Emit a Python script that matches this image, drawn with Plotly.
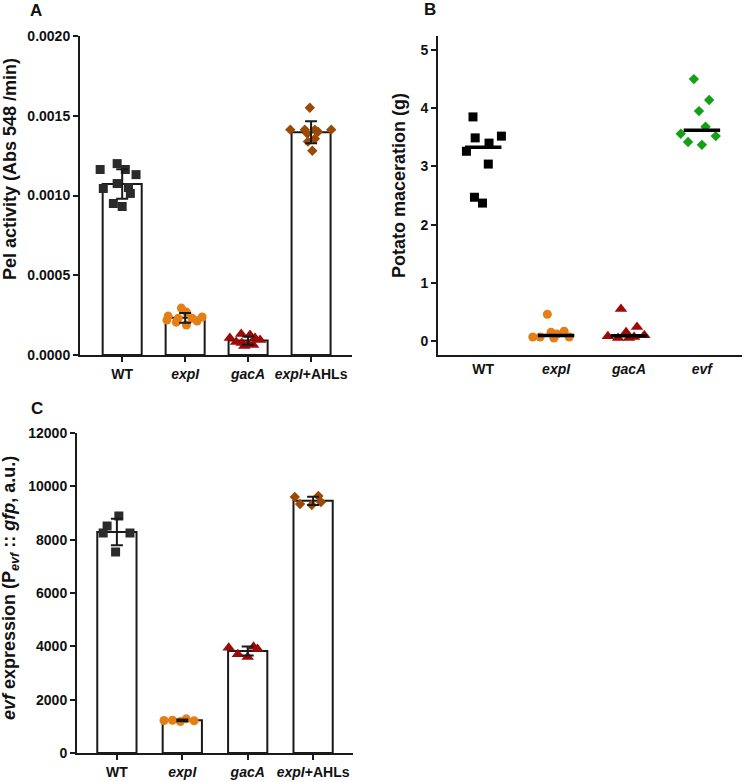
import numpy as np
import plotly.graph_objects as go

W, H = 750, 782

# ---------------- data ----------------
# Panel A : Pel activity (Abs 548 /min)
a_categories = ["WT", "<i>expI</i>", "<i>gacA</i>", "<i>expI</i>+AHLs"]
a_wt = [0.00120, 0.001163, 0.001163, 0.001131, 0.001075, 0.00105, 0.001044, 0.001013, 0.00095, 0.000931]
a_expi = [0.000244, 0.000219, 0.000206, 0.000231, 0.000294, 0.000269, 0.000188, 0.000231, 0.000213, 0.000238]
a_gaca = [0.000106, 0.000081, 0.000131, 0.000075, 0.000069, 0.000125, 0.000106, 0.000094, 0.000056, 0.000063]
a_ahl = [0.00155, 0.001413, 0.001413, 0.001388, 0.001413, 0.0014, 0.001413, 0.001338, 0.001356, 0.001281]
a_ticks = [0, 0.0005, 0.0010, 0.0015, 0.0020]
a_ticklabels = ["0.0000", "0.0005", "0.0010", "0.0015", "0.0020"]
# horizontal scatter of the dots (category units)
a_wt_jit = [-0.08, -0.35, 0.05, 0.22, -0.08, 0.10, -0.30, 0.13, -0.14, 0.0]
a_expi_jit = [-0.27, -0.29, -0.14, -0.11, -0.06, 0.02, 0.02, 0.11, 0.19, 0.27]
a_gaca_jit = [-0.29, -0.19, -0.11, -0.10, 0.0, 0.03, 0.11, 0.19, -0.06, 0.08]
a_ahl_jit = [-0.02, -0.33, -0.10, -0.06, 0.06, 0.11, 0.32, -0.05, 0.06, 0.02]

# Panel B : Potato maceration (g)
b_categories = ["WT", "<i>expI</i>", "<i>gacA</i>", "<i>evf</i>"]
b_wt = [3.85, 3.49, 3.40, 3.52, 3.26, 3.04, 2.47, 2.37]
b_expi = [0.46, 0.07, 0.07, 0.15, 0.05, 0.12, 0.17, 0.07]
b_gaca = [0.55, 0.08, 0.05, 0.15, 0.05, 0.24, 0.10, 0.07]
b_evf = [4.50, 4.14, 3.95, 3.68, 3.56, 3.52, 3.42, 3.37]
b_ticks = [0, 1, 2, 3, 4, 5]
b_ticklabels = ["0", "1", "2", "3", "4", "5"]
b_wt_jit = [-0.14, -0.11, 0.08, 0.25, -0.23, 0.07, -0.12, -0.01]
b_expi_jit = [-0.12, -0.32, -0.22, -0.07, -0.03, 0.01, 0.11, 0.18]
b_gaca_jit = [-0.11, -0.29, -0.15, -0.04, 0.0, 0.11, 0.21, 0.07]
b_evf_jit = [-0.11, 0.10, -0.04, 0.05, -0.29, 0.19, -0.19, 0.0]

# Panel C : evf expression (Pevf :: gfp, a.u.)
c_categories = ["WT", "<i>expI</i>", "<i>gacA</i>", "<i>expI</i>+AHLs"]
c_wt = [8888, 8512, 8250, 8250, 7538]
c_expi = [1220, 1230, 1180, 1280, 1210]
c_gaca = [3950, 3700, 3600, 3980, 3900]
c_ahl = [9600, 9338, 9300, 9638, 9413]
c_ticks = [0, 2000, 4000, 6000, 8000, 10000, 12000]
c_ticklabels = ["0", "2000", "4000", "6000", "8000", "10000", "12000"]
c_wt_jit = [0.03, -0.15, -0.21, 0.20, -0.02]
c_expi_jit = [-0.28, -0.15, -0.03, 0.06, 0.18]
c_gaca_jit = [-0.29, -0.15, 0.0, 0.09, 0.15]
c_ahl_jit = [-0.28, -0.20, -0.02, 0.08, 0.12]

# ---------------- styles ----------------
GRAY = "#2b2b2b"
BLACK = "#000000"
ORANGE = "#E47F17"
DARKRED = "#9C0A0A"
BROWN = "#9A4A06"
GREEN = "#14A014"
FONT = "Liberation Sans, Arial, sans-serif"
AXC = "#1a1a1a"


def px_x(p):
    return p / W


def px_y(p):
    return 1 - p / H


fig = go.Figure()

symbols_4 = ["square", "circle", "triangle-up", "diamond"]
sizes_4 = [9, 9, 11, 8]


def bar_panel(xa, ya, groups, jits, colors, width):
    n = len(groups)
    means = [float(np.mean(g)) for g in groups]
    sds = [float(np.std(g, ddof=1)) for g in groups]
    fig.add_trace(go.Bar(x=list(range(n)), y=means, width=width,
                         marker=dict(color="white", line=dict(color=AXC, width=2)),
                         xaxis=xa, yaxis=ya, showlegend=False, hoverinfo="skip"))
    for i, (g, j) in enumerate(zip(groups, jits)):
        fig.add_trace(go.Scatter(x=[i + d for d in j], y=g, mode="markers",
                                 marker=dict(symbol=symbols_4[i], size=sizes_4[i], color=colors[i],
                                             line=dict(width=0)),
                                 xaxis=xa, yaxis=ya, showlegend=False))
    fig.add_trace(go.Scatter(x=list(range(n)), y=means, mode="markers",
                             marker=dict(size=1, color="rgba(0,0,0,0)"),
                             error_y=dict(type="data", array=sds, visible=True,
                                          color=AXC, thickness=2, width=6),
                             xaxis=xa, yaxis=ya, showlegend=False, hoverinfo="skip"))


bar_panel("x", "y", [a_wt, a_expi, a_gaca, a_ahl],
          [a_wt_jit, a_expi_jit, a_gaca_jit, a_ahl_jit],
          [GRAY, ORANGE, DARKRED, BROWN], 0.62)

bar_panel("x3", "y3", [c_wt, c_expi, c_gaca, c_ahl],
          [c_wt_jit, c_expi_jit, c_gaca_jit, c_ahl_jit],
          [GRAY, ORANGE, DARKRED, BROWN], 0.6)

# Panel B: dot plot with median lines
b_groups = [b_wt, b_expi, b_gaca, b_evf]
b_jits = [b_wt_jit, b_expi_jit, b_gaca_jit, b_evf_jit]
b_colors = [BLACK, ORANGE, DARKRED, GREEN]
for i, (g, j) in enumerate(zip(b_groups, b_jits)):
    fig.add_trace(go.Scatter(x=[i + d for d in j], y=g, mode="markers",
                             marker=dict(symbol=symbols_4[i], size=sizes_4[i], color=b_colors[i],
                                         line=dict(width=0)),
                             xaxis="x2", yaxis="y2", showlegend=False))
for i, g in enumerate(b_groups):
    m = float(np.median(g))
    fig.add_trace(go.Scatter(x=[i - 0.25, i + 0.25], y=[m, m], mode="lines",
                             line=dict(color=BLACK, width=3.5),
                             xaxis="x2", yaxis="y2", showlegend=False, hoverinfo="skip"))

tickfont = dict(family=FONT, size=14, color="#111111", weight="bold")
common = dict(showgrid=False, zeroline=False, showline=True, linecolor=AXC, linewidth=2,
              tickfont=tickfont, ticks="outside", ticklen=5, tickwidth=2, tickcolor=AXC,
              automargin=False)

fig.update_layout(
    width=W, height=H, margin=dict(l=0, r=0, t=0, b=0, autoexpand=False),
    paper_bgcolor="white", plot_bgcolor="white",
    font=dict(family=FONT),
    xaxis=dict(domain=[px_x(80), px_x(352)], range=[-0.67, 3.65], anchor="y",
               tickvals=list(range(4)), ticktext=a_categories, **common),
    yaxis=dict(domain=[px_y(355), px_y(36)], range=[0, 0.0020], anchor="x",
               tickvals=a_ticks, ticktext=a_ticklabels, **common),
    xaxis2=dict(domain=[px_x(438), px_x(742)], range=[-0.62, 3.55], anchor="y2",
                tickvals=list(range(4)), ticktext=b_categories,
                **{**common, "ticks": ""}),
    yaxis2=dict(domain=[px_y(355), px_y(36)], range=[-0.24, 5.24], anchor="x2",
                tickvals=b_ticks, ticktext=b_ticklabels, **common),
    xaxis3=dict(domain=[px_x(77), px_x(353)], range=[-0.61, 3.61], anchor="y3",
                tickvals=list(range(4)), ticktext=c_categories, **common),
    yaxis3=dict(domain=[px_y(753), px_y(433)], range=[0, 12000], anchor="x3",
                tickvals=c_ticks, ticktext=c_ticklabels, **common),
)

title_font = dict(family=FONT, size=18, color="#111111", weight="bold")
ann = [
    dict(text="Pel activity (Abs 548 /min)", x=px_x(10), y=px_y(169), textangle=-90),
    dict(text="Potato maceration (g)", x=px_x(399), y=px_y(186), textangle=-90),
    dict(text="<i>evf</i> expression (P<sub><i>evf</i></sub> :: <i>gfp</i>, a.u.)",
         x=px_x(10), y=px_y(588), textangle=-90),
]
for a in ann:
    fig.add_annotation(xref="paper", yref="paper", xanchor="center", yanchor="middle",
                       showarrow=False, font=title_font, **a)

letter_font = dict(family=FONT, size=17, color="#111111", weight="bold")
for t, x, y in [("A", 36, 11), ("B", 430, 9), ("C", 37, 409)]:
    fig.add_annotation(text=t, x=px_x(x), y=px_y(y), xref="paper", yref="paper",
                       xanchor="center", yanchor="middle", showarrow=False, font=letter_font)

fig.write_html("out.html", config={"displayModeBar": False},
               post_script="document.body.style.margin='0px';document.body.style.overflow='hidden';")
